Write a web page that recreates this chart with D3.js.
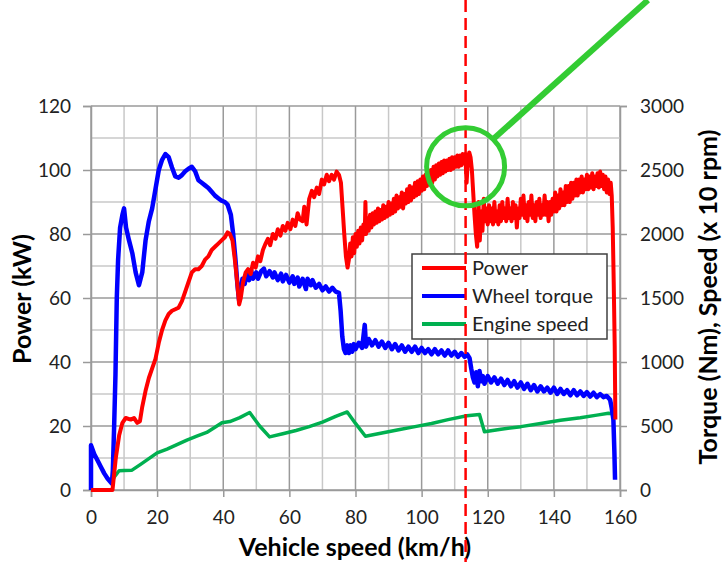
<!DOCTYPE html>
<html>
<head>
<meta charset="utf-8">
<script src="https://cdn.jsdelivr.net/npm/d3@7"></script>
<style>
  body { margin: 0; background: #fff; }
  text { font-family: Lato, "Open Sans", sans-serif; fill: #222; }
  .tick text { font-size: 19px; }
  .title { font-weight: bold; font-size: 25px; fill: #000; }
</style>
</head>
<body>
<div id="chart"></div>
<script>
// Chart values
var speedTicks = [0, 20, 40, 60, 80, 100, 120, 140, 160];
var powerTicks = [0, 20, 40, 60, 80, 100, 120];
var rightTicks = [0, 500, 1000, 1500, 2000, 2500, 3000];
var seriesNames = ["Power", "Wheel torque", "Engine speed"];
var markSpeed = 113.3;

// Power (kW) vs vehicle speed (km/h)
var powerData = [
  [0,0],[6.5,0],[6.8,3],[7.5,10],[8.5,17],[9.5,21],[10.5,22.5],[12,22],[13,22.5],[14,21],[14.8,21.5],
  [15.5,26],[16.5,31],[17.5,35],[18.5,38],[19.5,41],[20.5,46],[21.5,50],[22.5,53],[23.5,55],[24.5,56],
  [25.5,56.5],[26.5,57],[27.5,59],[28.5,62],[29.5,65],[30.5,68],[31.5,69],[32.5,69],[33.5,70],[34.5,72],
  [35.5,73],[36.5,75],[37.5,76],[38.5,77],[39.5,78],[40.5,79],[41.3,80.5],[42,80],[42.8,78],[43.5,72],
  [44.2,65],[44.8,58],[45.3,60],[46,65],[46.8,68],[47.5,69],[48.3,67.5],[49,71],[49.8,69.5],[50.5,73],
  [51.2,71.5],[52,75],[52.8,77],[53.5,78.5],[54.2,76.5],[55,80],[55.8,78.5],[56.5,81.5],[57.3,79.5],[58,82.5],
  [58.8,81],[59.5,83.5],[60.3,81.5],[61,84.5],[61.8,82.5],[62.5,86.5],[63.2,84.5],[64,84],[64.5,88.5],[65.2,83],
  [66,91],[66.8,93.5],[67.5,91.5],[68.3,94.5],[69,92.5],[69.8,97],[70.5,95.5],[71.3,98.5],[72,96.5],[72.8,98.5],
  [73.5,97],[74.3,99.5],[75,98.5],[75.6,96],[76.1,88],[76.6,80],[77.1,73],[77.6,69.5],[78,72],[78.4,77],
  [78.8,73],[79.2,79],[79.6,74],[80,80],[80.4,76],[80.8,81],[81.2,77],[81.6,82],[82,78],[82.4,83],
  [82.8,80],[83,90],[83.2,80],[83.6,85],[84,81],[84.4,86],[84.8,82],[85.2,86.5],[85.6,83],[86,87],
  [86.4,83.5],[86.8,88],[87.2,84],[87.6,87.5],[88,84.5],[88.4,89],[88.8,85],[89.2,88.5],[89.6,85.5],
  [90,90],[90.4,86],[90.8,89.5],[91.2,86.5],[91.6,91],[92,87],[92.4,92],[92.8,88],[93.2,91.5],[93.6,88.5],
  [94,93],[94.4,88],[94.8,92.5],[95.2,89.5],[95.6,94],[96,90],[96.4,95],[96.8,90.5],[97.2,94.5],[97.6,91.5],
  [98,96],[98.4,92],[98.8,96.5],[99.2,92.5],[99.6,97],[100,93.5],[100.4,98],[100.8,94],[101.2,98.5],
  [101.6,95],[102,99.5],[102.4,95.5],[102.8,100],[103.2,96],[103.6,101],[104,97],[104.4,101.5],[104.8,98],
  [105.2,102],[105.6,98.5],[106,102.5],[106.4,99],[106.8,103],[107.2,99.5],[107.6,103],[108,100],
  [108.4,103.5],[108.8,100],[109.2,104],[109.6,100.5],[110,104],[110.4,101],[110.8,104.5],[111.2,101],
  [111.6,104.5],[112,101.5],[112.4,105],[112.8,102],[113.2,105],[113.6,96],[114,103],[114.4,105.5],
  [114.8,104],[115.2,100],[115.6,93],[116,86],[116.4,80],[116.8,76],[117.2,90],[117.6,78],[118,87],
  [118.4,81],[118.8,91],[119.2,84],[119.6,88],[120,83],[120.4,89],[120.8,84],[121.2,88],[121.6,83],
  [122,90],[122.4,84],[122.8,87],[123.2,83],[123.6,89],[124,84],[124.4,90],[124.8,85],[125.2,88],
  [125.6,84],[126,91],[126.4,85],[126.8,88],[127.2,84],[127.6,90],[128,85],[128.4,89],[128.8,82],
  [129.2,88],[129.6,85],[130,91],[130.4,86],[130.8,92],[131.2,85],[131.6,89],[132,84],[132.4,90],
  [132.8,86],[133.2,92],[133.6,85],[134,89],[134.4,84],[134.8,90],[135.2,86],[135.6,91],[136,85],
  [136.4,89],[136.8,86],[137.2,92],[137.6,86],[138,90],[138.4,84],[138.8,90],[139.2,86],[139.6,91],
  [140,87],[140.4,93],[140.8,87],[141.2,92],[141.6,88],[142,94],[142.4,89],[142.8,93],[143.2,89],
  [143.6,95],[144,90],[144.4,95],[144.8,90],[145.2,96],[145.6,91],[146,96],[146.4,92],[146.8,97],
  [147.2,92],[147.6,97],[148,93],[148.4,98],[148.8,93],[149.2,97],[149.6,94],[150,98.5],[150.4,94],
  [150.8,98],[151.2,94.5],[151.6,99],[152,94],[152.4,98],[152.8,95],[153.2,99],[153.6,94.5],[154,99.5],
  [154.4,95],[154.8,98.5],[155.2,94],[155.6,98],[156,93],[156.4,97],[156.8,92.5],[157.2,96],[157.5,92],
  [157.8,82],[158.1,65],[158.4,45],[158.6,22]
];

// Wheel torque (Nm) vs vehicle speed
var torqueData = [
  [0,0],[0,350],[1,280],[2,230],[3,180],[4,130],[5,90],[6.3,50],[6.6,150],[7,500],[7.4,900],[7.8,1500],
  [8.2,1800],[8.8,2050],[9.5,2150],[10,2200],[10.6,2050],[11.5,1950],[12.5,1850],[13.5,1700],[14.5,1600],
  [15.5,1700],[16.5,1950],[17.5,2100],[18.5,2200],[19.5,2350],[20.5,2500],[21.5,2580],[22.5,2625],
  [23.5,2600],[24.5,2520],[25.5,2450],[26.5,2440],[27.5,2460],[28.5,2490],[29.5,2510],[30.5,2525],
  [31.5,2490],[32.5,2420],[33.5,2400],[34.5,2380],[35.5,2360],[36.5,2330],[37.5,2300],[38.5,2280],
  [39.5,2260],[40.5,2250],[41.3,2230],[42.3,2150],[43,2000],[43.7,1800],[44.3,1600],[44.8,1480],
  [45.3,1560],[45.8,1650],[46.5,1610],[47,1690],[47.8,1640],[48.5,1710],[49,1650],[50,1700],[50.5,1650],
  [51.5,1710],[52.3,1730],[53,1670],[54,1710],[55,1660],[55.5,1700],[56.5,1640],[57.5,1690],[58,1630],
  [59,1680],[60,1620],[61,1670],[61.5,1610],[62.5,1660],[63,1590],[64,1650],[65,1570],[65.5,1650],
  [66.5,1600],[67,1640],[68,1580],[69,1610],[70,1560],[71,1590],[72,1550],[73,1580],[74,1550],[75,1540],
  [75.5,1400],[76,1200],[76.5,1100],[77,1070],[77.5,1130],[78,1070],[78.5,1130],[79,1080],[79.5,1140],
  [80,1100],[81,1150],[82,1110],[82.8,1290],[83.2,1120],[84,1180],[85,1130],[86,1170],[87,1120],
  [88,1160],[89,1110],[90,1150],[91,1100],[92,1140],[93,1090],[94,1130],[95,1080],[96,1120],[97,1080],
  [98,1120],[99,1070],[100,1110],[101,1070],[102,1100],[103,1060],[104,1100],[105,1060],[106,1090],
  [107,1050],[108,1090],[109,1050],[110,1080],[111,1040],[112,1070],[113,1040],[113.8,1060],[114.5,1030],
  [115,950],[115.5,880],[116,840],[116.5,920],[117,810],[117.5,930],[118,850],[118.5,890],[119,830],
  [120,890],[121,840],[122,880],[123,830],[124,870],[125,820],[126,860],[127,810],[128,850],[129,800],
  [130,840],[131,790],[132,830],[133,780],[134,820],[135,770],[136,810],[137,770],[138,800],[139,760],
  [140,800],[141,750],[142,790],[143,750],[144,780],[145,740],[146,780],[147,740],[148,770],[149,735],
  [150,765],[151,730],[152,760],[153,725],[154,750],[155,725],[156,735],[157,705],[157.5,640],[158,550],
  [158.3,300],[158.5,80]
];

// Engine speed (x 10 rpm) vs vehicle speed
var engineData = [
  [6.3,55],[7,100],[8.5,150],[10,152],[12.4,155],[15,200],[17.5,245],[20,290],[23,320],[26,355],
  [29,390],[32,420],[35,450],[37.5,490],[39.6,525],[42,535],[45,565],[48,605],[51,500],[54,415],
  [58,440],[62,465],[66,495],[70,530],[74,575],[77.5,610],[80,520],[83,420],[88,445],[93,470],[98,495],
  [103,520],[108,550],[113.7,580],[117.5,590],[119,455],[124,475],[130,495],[136,520],[142,545],
  [148,565],[153,585],[156.5,600],[158,595]
];

var svgWidth = 724;
var svgHeight = 562;

var svg = d3.select("#chart")
  .append("svg")
  .attr("width", svgWidth)
  .attr("height", svgHeight);

// Scales
var xScale = d3.scaleLinear().domain([0, 160]).range([91, 620]);
var yLeft = d3.scaleLinear().domain([0, 120]).range([490, 106]);
var yRight = d3.scaleLinear().domain([0, 3000]).range([490, 106]);

// Gridlines (minor every 10, major every 20)
var grid = svg.append("g");
grid.selectAll(".vgrid")
  .data(d3.range(0, 161, 10))
  .enter()
  .append("line")
  .attr("x1", d => xScale(d))
  .attr("x2", d => xScale(d))
  .attr("y1", yLeft(0))
  .attr("y2", yLeft(120))
  .attr("stroke", d => d % 20 === 0 ? "#9a9a9a" : "#c8c8c8")
  .attr("stroke-width", 1.5);
grid.selectAll(".hgrid")
  .data(d3.range(0, 121, 10))
  .enter()
  .append("line")
  .attr("x1", xScale(0))
  .attr("x2", xScale(160))
  .attr("y1", d => yLeft(d))
  .attr("y2", d => yLeft(d))
  .attr("stroke", d => d % 20 === 0 ? "#9a9a9a" : "#c8c8c8")
  .attr("stroke-width", 1.5);

// Axes
var bottomAxis = d3.axisBottom(xScale).tickValues(speedTicks).tickSize(7).tickPadding(14);
var leftAxis = d3.axisLeft(yLeft).tickValues(powerTicks).tickSize(8).tickPadding(12);
var rightAxis = d3.axisRight(yRight).tickValues(rightTicks).tickFormat(d3.format("d"))
  .tickSize(7).tickPadding(13);

svg.append("g").attr("transform", `translate(0, ${yLeft(0)})`).call(bottomAxis);
svg.append("g").attr("transform", `translate(${xScale(0)}, 0)`).call(leftAxis);
svg.append("g").attr("transform", `translate(${xScale(160)}, 0)`).call(rightAxis);

svg.selectAll(".domain").attr("stroke", "#9a9a9a").attr("stroke-width", 1.5);
svg.selectAll(".tick line").attr("stroke", "#9a9a9a").attr("stroke-width", 1.5);
svg.selectAll(".tick text").attr("fill", "#222");

// Lines
var lineLeft = d3.line().x(d => xScale(d[0])).y(d => yLeft(d[1]));
var lineRight = d3.line().x(d => xScale(d[0])).y(d => yRight(d[1]));

svg.append("path").datum(engineData)
  .attr("d", lineRight)
  .attr("fill", "none").attr("stroke", "#00b050").attr("stroke-width", 3.5)
  .attr("stroke-linejoin", "round");
svg.append("path").datum(torqueData)
  .attr("d", lineRight)
  .attr("fill", "none").attr("stroke", "#0000ff").attr("stroke-width", 4.5)
  .attr("stroke-linejoin", "round");
svg.append("path").datum(powerData)
  .attr("d", lineLeft)
  .attr("fill", "none").attr("stroke", "#ff0000").attr("stroke-width", 4)
  .attr("stroke-linejoin", "round");

// Legend
var legendColors = ["#ff0000", "#0000ff", "#00b050"];
var legend = svg.append("g").attr("transform", "translate(412, 254)");
legend.append("rect")
  .attr("width", 195).attr("height", 85)
  .attr("fill", "#fff").attr("stroke", "#404040").attr("stroke-width", 1.5);
var items = legend.selectAll(".item")
  .data(seriesNames)
  .enter()
  .append("g")
  .attr("transform", (d, i) => `translate(0, ${14 + i * 28})`);
items.append("line")
  .attr("x1", 10).attr("x2", 54)
  .attr("stroke", (d, i) => legendColors[i])
  .attr("stroke-width", 4);
items.append("text")
  .attr("x", 60).attr("dy", "0.35em")
  .style("font-size", "20px")
  .text(d => d);

// Axis titles
svg.append("text")
  .attr("class", "title")
  .attr("x", 355).attr("y", 556)
  .attr("text-anchor", "middle")
  .text("Vehicle speed (km/h)");

svg.append("text")
  .attr("class", "title")
  .attr("transform", "translate(31, 299) rotate(-90)")
  .attr("text-anchor", "middle")
  .text("Power (kW)");

svg.append("text")
  .attr("class", "title")
  .attr("transform", "translate(717, 297) rotate(-90)")
  .attr("text-anchor", "middle")
  .text("Torque (Nm),  Speed (x 10 rpm)");

// Dashed marker line
svg.append("line")
  .attr("x1", xScale(markSpeed)).attr("x2", xScale(markSpeed))
  .attr("y1", 0).attr("y2", svgHeight)
  .attr("stroke", "#ff0000").attr("stroke-width", 2.5)
  .attr("stroke-dasharray", "12,6");

// Highlight circle with pointer
var cx = xScale(markSpeed), cy = yLeft(101);
svg.append("circle")
  .attr("cx", cx).attr("cy", cy).attr("r", 39)
  .attr("fill", "none").attr("stroke", "#33cc33").attr("stroke-width", 5);
svg.append("line")
  .attr("x1", cx + 28).attr("y1", cy - 28)
  .attr("x2", 648).attr("y2", 0)
  .attr("stroke", "#33cc33").attr("stroke-width", 6);
</script>
</body>
</html>
